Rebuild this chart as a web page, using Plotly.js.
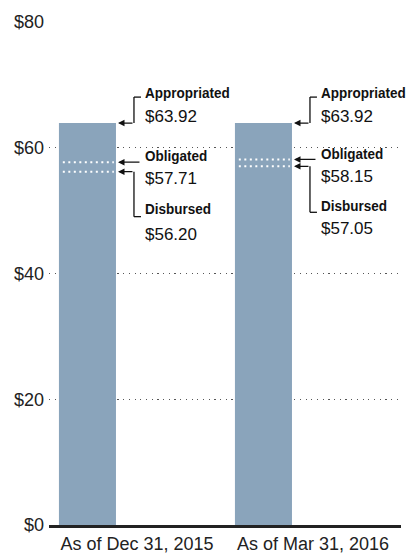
<!DOCTYPE html>
<html><head><meta charset="utf-8">
<script src="https://cdn.plot.ly/plotly-3.0.1.min.js"></script>
<style>html,body{margin:0;padding:0;background:#fff}#chart{width:413px;height:559px}</style>
</head><body><div id="chart"></div>
<script>
// ---- data ----
var periods = ["As of Dec 31, 2015", "As of Mar 31, 2016"];
var appropriated = [63.92, 63.92];
var obligated = [57.71, 58.15];
var disbursed = [56.20, 57.05];
var yTickVals = [0, 20, 40, 60, 80];
var yTickText = ["$0", "$20", "$40", "$60", "$80"];
var seriesNames = ["Appropriated", "Obligated", "Disbursed"];

// ---- style ----
var barColor = "#8aa4bb";
var barOffset = -0.4435, barWidth = 0.324;
var labelFont = {family: "Liberation Sans, Arial, sans-serif", size: 14.5, color: "#111", weight: 700};
var valueFont = {family: "Liberation Sans, Arial, sans-serif", size: 17, color: "#111"};
var condense = 0.93;
// pixel offsets of labels relative to the value they describe, per bar
var lay = [
  {apL: 30, apV: 7, obL: 6, obV: -16, diL: -37, diV: -63, diDrop: -45},
  {apL: 30, apV: 7, obL: 5, obV: -17, diL: -40, diV: -62, diDrop: -46}
];

var shapes = [], ann = [];
periods.forEach(function(p, i) {
  var xl = i + barOffset, xr = i + barOffset + barWidth;
  [obligated[i], disbursed[i]].forEach(function(v) {
    shapes.push({type: "line", xref: "x", yref: "y", x0: xl + 0.022, x1: xr - 0.012, y0: v, y1: v,
      line: {color: "#fff", width: 2, dash: "2px,3.5px"}, layer: "above"});
  });
  [appropriated[i], obligated[i], disbursed[i]].forEach(function(v, k) {
    ann.push({x: xr, y: v, xref: "x", yref: "y", text: "", showarrow: true,
      ax: (k === 1 ? 25 : 18), ay: 0, arrowhead: 2, arrowsize: 1, arrowwidth: 1.3,
      arrowcolor: "#111", standoff: 2});
  });
  var L = lay[i];
  function seg(v, x0, x1, y0, y1) {
    shapes.push({type: "line", xref: "x", yref: "y", xsizemode: "pixel", xanchor: xr, x0: x0, x1: x1,
      ysizemode: "pixel", yanchor: v, y0: y0, y1: y1, line: {color: "#111", width: 1.3}});
  }
  seg(appropriated[i], 18, 18, 0, 26);
  seg(appropriated[i], 18, 25, 26, 26);
  seg(disbursed[i], 18, 18, 0, L.diDrop);
  seg(disbursed[i], 18, 25, L.diDrop, L.diDrop);
  function lbl(txt, v, ys, font) {
    ann.push({x: xr, y: v, xref: "x", yref: "y", xanchor: "left", yanchor: "middle", align: "left",
      xshift: 28, yshift: ys, showarrow: false, text: txt, font: font, borderpad: 0});
  }
  lbl(seriesNames[0], appropriated[i], L.apL, labelFont);
  lbl("$" + appropriated[i].toFixed(2), appropriated[i], L.apV, valueFont);
  lbl(seriesNames[1], obligated[i], L.obL, labelFont);
  lbl("$" + obligated[i].toFixed(2), obligated[i], L.obV, valueFont);
  lbl(seriesNames[2], disbursed[i], L.diL, labelFont);
  lbl("$" + disbursed[i].toFixed(2), disbursed[i], L.diV, valueFont);
});

var trace = {type: "bar", x: periods, y: appropriated, marker: {color: barColor},
  offset: barOffset, width: barWidth, hoverinfo: "skip"};

var tf = {family: "Liberation Sans, Arial, sans-serif", size: 18, color: "#222"};
var layout = {
  width: 413, height: 559,
  margin: {l: 49, r: 12, t: 22, b: 34},
  paper_bgcolor: "#fff", plot_bgcolor: "#fff",
  showlegend: false,
  font: tf,
  xaxis: {type: "category", range: [-0.5, 1.5], showgrid: false, zeroline: false,
    showline: true, linecolor: "#222", linewidth: 3, ticks: "", tickfont: tf},
  yaxis: {range: [0, 80], tickvals: yTickVals, ticktext: yTickText, showgrid: true,
    gridcolor: "#555", griddash: "1.2px,4.5px", gridwidth: 1.2, zeroline: false, showline: false,
    ticks: "", ticklabelstandoff: 4, tickfont: tf},
  shapes: shapes, annotations: ann
};
Plotly.newPlot("chart", [trace], layout, {displayModeBar: false, staticPlot: true}).then(function(gd) {
  gd.querySelectorAll(".annotation-text").forEach(function(t) {
    if (seriesNames.indexOf(t.textContent) >= 0) {
      var w = t.getComputedTextLength();
      t.setAttribute("textLength", (w * condense).toFixed(1));
      t.setAttribute("lengthAdjust", "spacingAndGlyphs");
    }
  });
});
</script></body></html>
